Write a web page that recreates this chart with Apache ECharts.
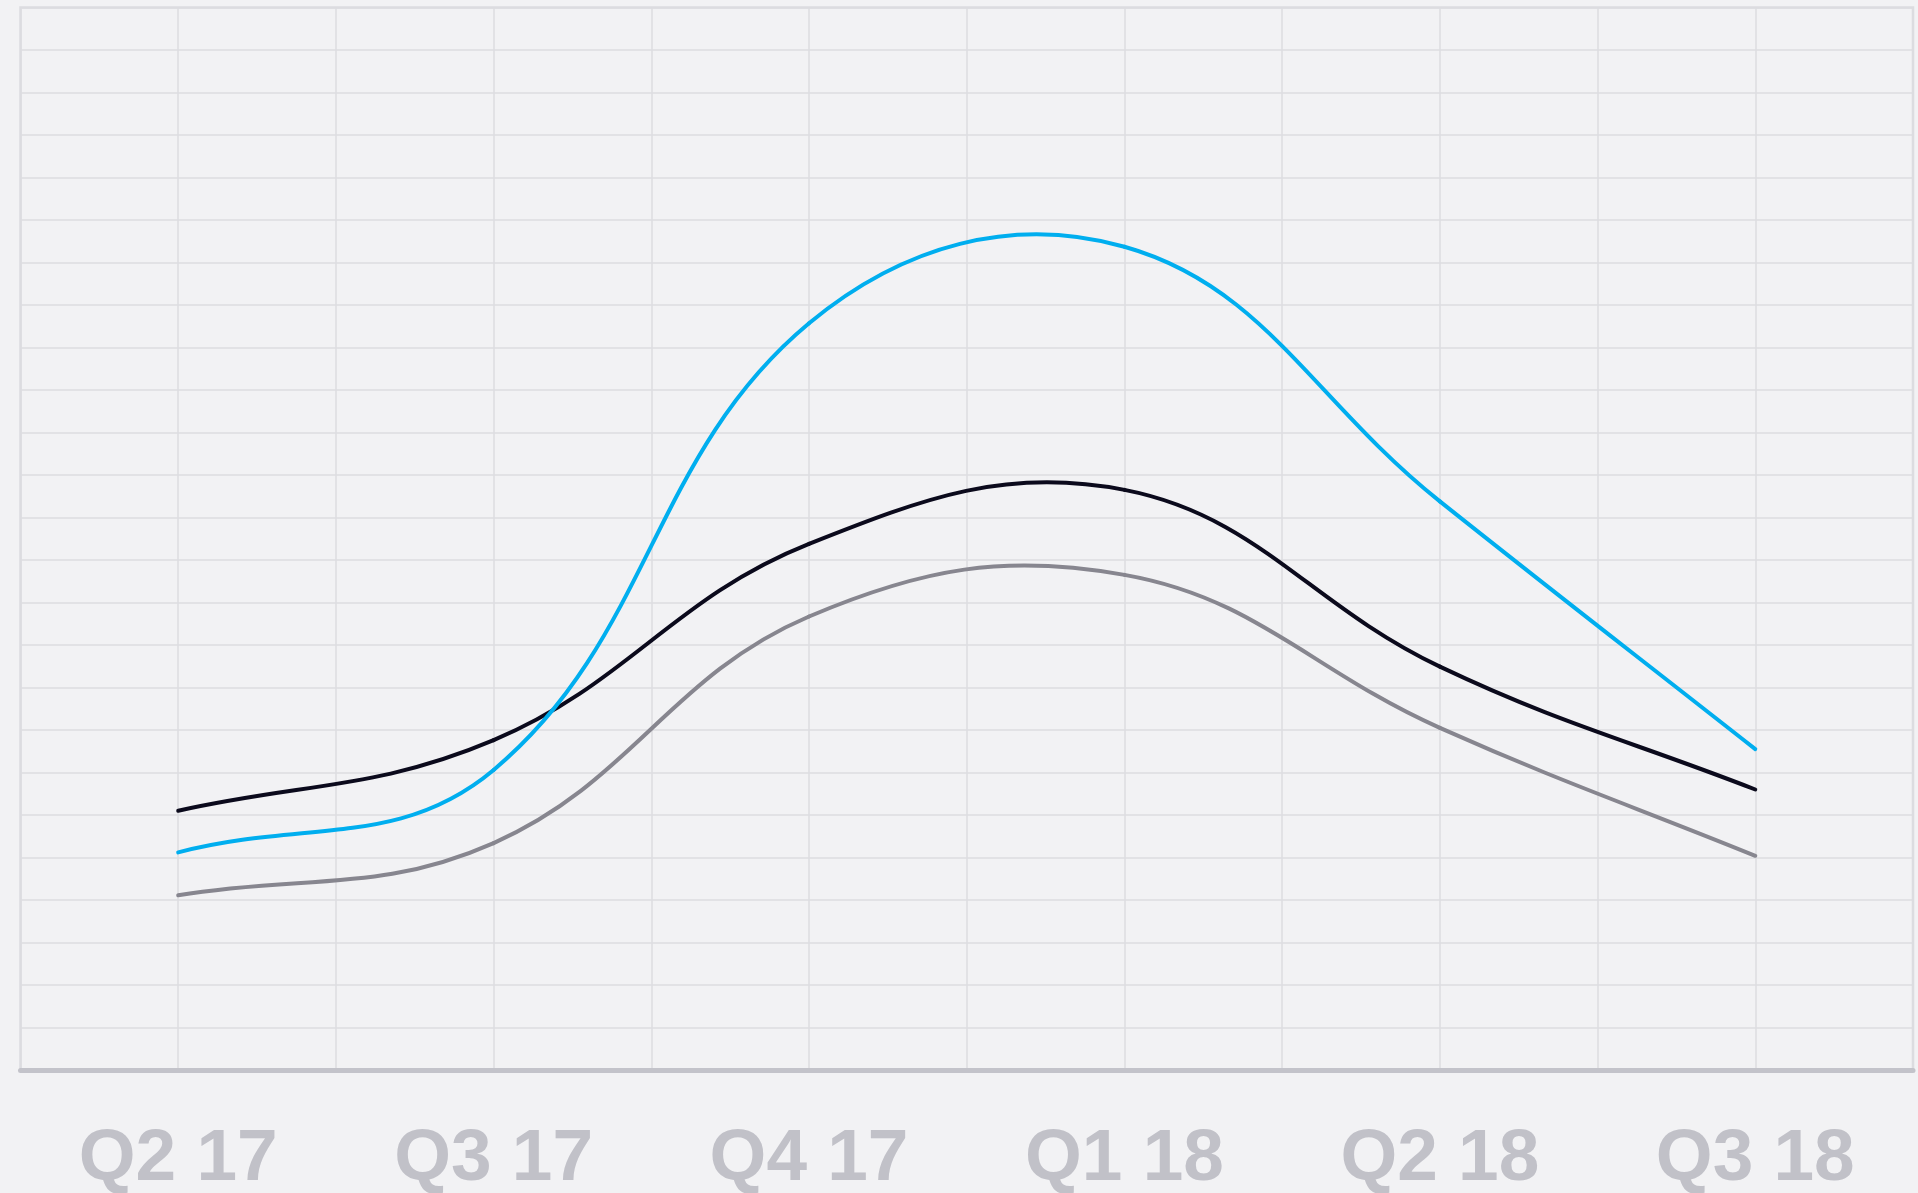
<!DOCTYPE html>
<html>
<head>
<meta charset="utf-8">
<title>Quarterly trend</title>
<script src="https://cdn.jsdelivr.net/npm/echarts@6/dist/echarts.min.js"></script>
<style>
  html, body { margin: 0; padding: 0; background: #f2f2f4; }
  #chart { width: 1918px; height: 1193px; }
</style>
</head>
<body>
<div id="chart"></div>
<script>
// Quarter labels along the bottom axis
var quarters = ['Q2 17', 'Q3 17', 'Q4 17', 'Q1 18', 'Q2 18', 'Q3 18'];

// Series values, one per quarter
var blueValues  = [5.12, 7.06, 17.57, 19.37, 13.38, 7.55];
var darkValues  = [6.10, 7.76, 12.38, 13.65, 9.49, 6.60];
var greyValues  = [4.11, 5.34, 10.67, 11.65, 8.05, 5.04];

var gridColor = '#dcdce0';
var labelColor = '#c1c1c8';
var TENSION = 0.4;

var chart = echarts.init(document.getElementById('chart'), null, { renderer: 'canvas' });

// Cardinal spline: each data item draws the bezier segment to the next point,
// with control points taken from its neighbours (scaled by segment lengths).
function makeRenderItem(color) {
  return function (params, api) {
    var i = params.dataIndexInside;
    var n = params.dataInsideLength;
    if (i >= n - 1) return null;
    function pt(k) {
      k = Math.max(0, Math.min(n - 1, k));
      return api.coord([api.value(0, k), api.value(1, k)]);
    }
    var p0 = pt(i - 1), p1 = pt(i), p2 = pt(i + 1), p3 = pt(i + 2);
    function dist(a, b) { return Math.sqrt((a[0] - b[0]) * (a[0] - b[0]) + (a[1] - b[1]) * (a[1] - b[1])); }
    // outgoing control point at p1
    var dA0 = dist(p0, p1), dA1 = dist(p1, p2);
    var fA = (dA0 + dA1) > 0 ? TENSION * dA1 / (dA0 + dA1) : 0;
    var c1 = [p1[0] + fA * (p2[0] - p0[0]), p1[1] + fA * (p2[1] - p0[1])];
    // incoming control point at p2
    var dB0 = dist(p1, p2), dB1 = dist(p2, p3);
    var fB = (dB0 + dB1) > 0 ? TENSION * dB0 / (dB0 + dB1) : 0;
    var c2 = [p2[0] - fB * (p3[0] - p1[0]), p2[1] - fB * (p3[1] - p1[1])];
    return {
      type: 'bezierCurve',
      shape: {
        x1: p1[0], y1: p1[1], x2: p2[0], y2: p2[1],
        cpx1: c1[0], cpy1: c1[1], cpx2: c2[0], cpy2: c2[1]
      },
      style: { stroke: color, fill: null, lineWidth: 4, lineCap: 'round', lineJoin: 'round' },
      silent: true
    };
  };
}

function curveSeries(name, values, color, z) {
  return {
    name: name,
    type: 'custom',
    xAxisIndex: 0,
    yAxisIndex: 0,
    z: z,
    encode: { x: 0, y: 1 },
    data: values.map(function (v, i) { return [i, v]; }),
    renderItem: makeRenderItem(color)
  };
}

chart.setOption({
  backgroundColor: '#f2f2f4',
  animation: false,
  grid: {
    left: 20.5, right: 5, top: 7.5, bottom: 123,
    outerBoundsMode: 'none',
    containLabel: false,
    show: true,
    borderColor: gridColor,
    borderWidth: 2.5,
    backgroundColor: 'transparent'
  },
  xAxis: [
    {
      type: 'category',
      data: quarters,
      boundaryGap: true,
      position: 'bottom',
      axisLine: { show: true, lineStyle: { color: '#c3c3ca', width: 5 } },
      axisTick: { show: false },
      splitLine: { show: false },
      axisLabel: {
        color: labelColor,
        fontFamily: '"Liberation Sans", Arial, sans-serif',
        fontWeight: 'bold',
        fontSize: 73,
        margin: 53
      },
      z: 5
    },
    {
      // finer vertical grid: one line per half quarter
      type: 'value',
      min: 0,
      max: 12,
      interval: 1,
      position: 'bottom',
      axisLine: { show: false },
      axisTick: { show: false },
      axisLabel: { show: false },
      splitLine: { show: true, lineStyle: { color: gridColor, width: 1.5 } }
    }
  ],
  yAxis: {
    type: 'value',
    min: 0,
    max: 25,
    interval: 1,
    axisLine: { show: false },
    axisTick: { show: false },
    axisLabel: { show: false },
    splitLine: { show: true, lineStyle: { color: gridColor, width: 1.5 } }
  },
  series: [
    curveSeries('Grey', greyValues, '#87868f', 3),
    curveSeries('Dark', darkValues, '#0b0a1c', 4),
    curveSeries('Blue', blueValues, '#00aeef', 5)
  ]
});
</script>
</body>
</html>
